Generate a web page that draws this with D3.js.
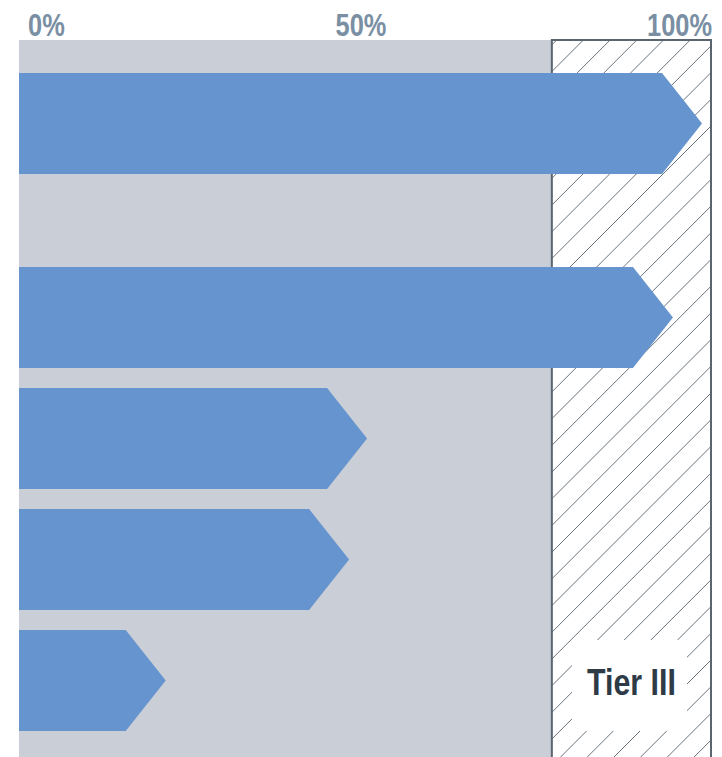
<!DOCTYPE html>
<html>
<head>
<meta charset="utf-8">
<script src="https://cdn.jsdelivr.net/npm/d3@7"></script>
<style>
  body { margin: 0; background: #fff; }
  svg { display: block; }
</style>
</head>
<body>
<svg id="chart"></svg>
<script>
const WIDTH = 722;
const HEIGHT = 757;

// data
const categories = ["A", "B", "C", "D", "E"];
const groups = [1, 2, 2, 2, 2];
const values = [98.7, 94.5, 50.3, 47.7, 21.2];
const tickValues = [0, 50, 100];
const tickLabels = ["0%", "50%", "100%"];
const tierStart = 77;
const tierLabel = "Tier III";

const X0 = 19, X1 = 711, TOP = 40;
const BAR_H = 101, STEP = 121, GROUP_GAP = 73, TIP = 40;
const HATCH = 26.7;
const NARROW = 0.82; // no narrow font installed, squeeze a bold sans instead
const FONT = "'Liberation Sans', Arial, sans-serif";

const svg = d3.select("#chart").attr("width", WIDTH).attr("height", HEIGHT);

const x = d3.scaleLinear().domain([0, 100]).range([X0, X1]);
const y = d3.scaleBand()
    .domain(categories)
    .range([73, 73 + STEP * (categories.length - 20 / STEP)])
    .paddingInner(20 / STEP)
    .paddingOuter(0);

// grey panel
svg.append("rect")
    .attr("x", x(0)).attr("y", TOP)
    .attr("width", x(tierStart) - x(0)).attr("height", HEIGHT - TOP)
    .attr("fill", "#c9ced7");

// hatched tier region
const tx0 = x(tierStart), tx1 = x(100);
svg.append("rect")
    .attr("x", tx0).attr("y", TOP)
    .attr("width", tx1 - tx0).attr("height", HEIGHT - TOP)
    .attr("fill", "#fff");

svg.append("clipPath").attr("id", "tierClip")
  .append("rect")
    .attr("x", tx0).attr("y", TOP)
    .attr("width", tx1 - tx0).attr("height", HEIGHT - TOP);

const hatch = svg.append("g").attr("clip-path", "url(#tierClip)");
const c0 = 556.7 + TOP;
const hatchIdx = d3.range(-10, 40);
hatch.selectAll("line")
    .data(hatchIdx)
    .join("line")
    .attr("x1", k => c0 + k * HATCH - TOP).attr("y1", TOP)
    .attr("x2", k => c0 + k * HATCH - HEIGHT).attr("y2", HEIGHT)
    .attr("stroke", "#68737e")
    .attr("stroke-width", 1);

// white box behind the tier label
svg.append("rect")
    .attr("x", 572).attr("y", 640)
    .attr("width", 115).attr("height", 91)
    .attr("fill", "#fff");

svg.append("text")
    .attr("transform", `translate(${(tx0 + tx1) / 2},695) scale(${NARROW},1)`)
    .attr("text-anchor", "middle")
    .attr("font-family", FONT)
    .attr("font-weight", "bold")
    .attr("font-size", 37)
    .attr("fill", "#2e3a46")
    .text(tierLabel);

// border of tier region
svg.append("path")
    .attr("d", `M${tx0},${HEIGHT} V${TOP} H${tx1} V${HEIGHT}`)
    .attr("fill", "none")
    .attr("stroke", "#5a6570")
    .attr("stroke-width", 2);

// arrow bars
const rows = categories.map((c, i) => ({ cat: c, group: groups[i], value: values[i] }));
const rowY = d => y(d.cat) + (d.group - 1) * GROUP_GAP;

svg.append("g").selectAll("path")
    .data(rows)
    .join("path")
    .attr("d", d => {
        const top = rowY(d), h = BAR_H;
        const tip = x(d.value);
        const body = tip - TIP;
        return `M${x(0)},${top} H${body} L${tip},${top + h / 2} L${body},${top + h} H${x(0)} Z`;
    })
    .attr("fill", "#6694cf");

// axis labels
const anchors = ["start", "middle", "end"];
const offsets = [9, -4, 1];
svg.append("g").selectAll("text")
    .data(tickValues)
    .join("text")
    .attr("transform", (v, i) => `translate(${x(v) + offsets[i]},36) scale(${NARROW},1)`)
    .attr("text-anchor", (v, i) => anchors[i])
    .attr("font-family", FONT)
    .attr("font-weight", "bold")
    .attr("font-size", 31)
    .attr("fill", "#7a8fa3")
    .text((v, i) => tickLabels[i]);
</script>
</body>
</html>
